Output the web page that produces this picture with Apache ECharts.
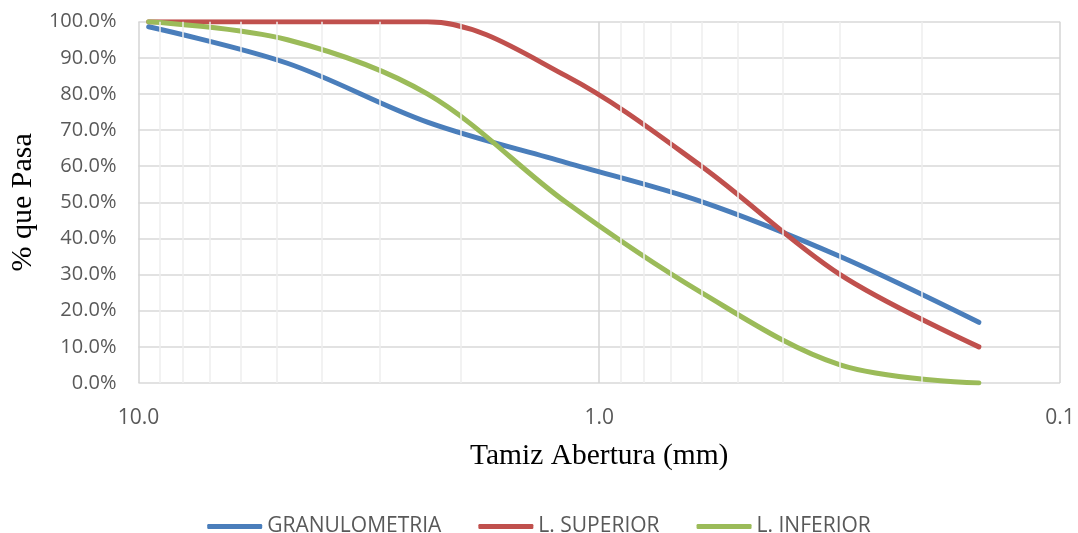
<!DOCTYPE html>
<html>
<head>
<meta charset="utf-8">
<script src="https://cdn.jsdelivr.net/npm/echarts@6/dist/echarts.min.js"></script>
<style>
  html, body { margin: 0; padding: 0; background: #fff; }
  #chart { width: 1078px; height: 533px; }
</style>
</head>
<body>
<div id="chart"></div>
<script>
// abertura de tamices (mm)
var sieves = [9.5, 4.75, 2.36, 1.18, 0.6, 0.3, 0.15];
// % que pasa
var granulometria = [98.6, 88.5, 72.2, 61.0, 50.2, 35.0, 16.8];
var limSuperior = [100, 100, 100, 85, 60, 30, 10];
var limInferior = [100, 95, 80, 50, 25, 5, 0];
// lineas secundarias de la cuadricula (eje log)
var minorTicks = [9, 8, 7, 6, 5, 4, 3, 2, 0.9, 0.8, 0.7, 0.6, 0.5, 0.4, 0.3, 0.2];

var labelFont = '"Open Sans", "Liberation Sans", sans-serif';
var titleFont = '"Liberation Serif", "DejaVu Serif", serif';

function pairs(xs, ys) {
	var out = [];
	for (var i = 0; i < xs.length; i++) {
		out.push([xs[i], ys[i]]);
	}
	return out;
}

function curve(name, values, color) {
	return {
		name: name,
		type: 'line',
		data: pairs(sieves, values),
		smooth: 0.34,
		symbol: 'none',
		z: 3,
		lineStyle: { color: color, width: 5, cap: 'round', join: 'round' },
		itemStyle: { color: color }
	};
}

var chart = echarts.init(document.getElementById('chart'));
var option = {
	animation: false,
	backgroundColor: '#ffffff',
	grid: { left: 137, right: 18, top: 21.7, bottom: 150 },
	legend: {
		data: ['GRANULOMETRIA', 'L. SUPERIOR', 'L. INFERIOR'],
		icon: 'roundRect',
		top: 511,
		left: 'center',
		itemWidth: 55,
		itemHeight: 5,
		itemGap: 37,
		textStyle: { fontFamily: labelFont, fontSize: 21, color: '#595959' }
	},
	xAxis: {
		type: 'log',
		logBase: 10,
		min: 0.1,
		max: 10,
		inverse: true,
		name: 'Tamiz Abertura (mm)',
		nameLocation: 'middle',
		nameGap: 58,
		nameTextStyle: { fontFamily: titleFont, fontSize: 29.5, color: '#000' },
		axisLine: { show: false },
		axisTick: { show: false },
		axisLabel: {
			margin: 25,
			fontFamily: labelFont,
			fontSize: 21,
			color: '#595959',
			formatter: function (v) { return v.toFixed(1); }
		},
		splitLine: { show: true, lineStyle: { color: '#d4d4d4', width: 1.5 } }
	},
	yAxis: {
		type: 'value',
		min: 0,
		max: 100,
		interval: 10,
		name: '% que Pasa',
		nameLocation: 'middle',
		nameGap: 100,
		nameTextStyle: { fontFamily: titleFont, fontSize: 30, color: '#000' },
		axisLine: { show: false },
		axisTick: { show: false },
		axisLabel: {
			margin: 22,
			fontFamily: labelFont,
			fontSize: 20,
			color: '#595959',
			formatter: function (v) { return v.toFixed(1) + '%'; }
		},
		splitLine: { show: true, lineStyle: { color: '#d9d9d9', width: 1.5 } }
	},
	series: [
		{
			name: 'minor',
			type: 'line',
			data: [],
			silent: true,
			z: 1,
			markLine: {
				silent: true,
				symbol: 'none',
				label: { show: false },
				animation: false,
				lineStyle: { color: '#eeeeee', width: 1.5, type: 'solid' },
				data: minorTicks.map(function (t) { return { xAxis: t }; })
			}
		},
		curve('GRANULOMETRIA', granulometria, '#4a7ebb'),
		curve('L. SUPERIOR', limSuperior, '#c0504d'),
		curve('L. INFERIOR', limInferior, '#9bbb59')
	]
};
chart.setOption(option);
</script>
</body>
</html>
